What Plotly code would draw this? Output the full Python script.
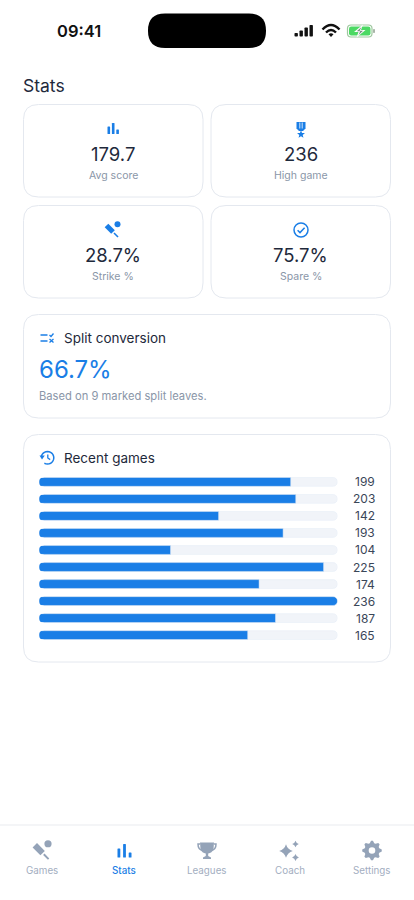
import math
import plotly.graph_objects as go

FONT = "Inter"
BLUE = "#1a7ee6"
INK = "#1e293b"
MUTED = "#8a96a8"
GREY = "#94a3b8"
BORDER = "#e4e8ef"
TRACK = "#f1f4f9"

# recent games
games = ["g1", "g2", "g3", "g4", "g5", "g6", "g7", "g8", "g9", "g10"]
scores = [199, 203, 142, 193, 104, 225, 174, 236, 187, 165]
track = [236] * 10

# stat cards
card_values = ["179.7", "236", "28.7%", "75.7%"]
card_labels = ["Avg score", "High game", "Strike %", "Spare %"]
tab_labels = ["Games", "Stats", "Leagues", "Coach", "Settings"]

fig = go.Figure()
fig.add_bar(y=games, x=track, orientation="h", marker_color=TRACK, width=0.52, hoverinfo="skip")
fig.add_bar(y=games, x=scores, orientation="h", marker_color=BLUE, width=0.52, hoverinfo="skip")

shapes = []
notes = []


def rrect(x0, y0, x1, y1, r):
    return (f"M{x0+r},{y0} L{x1-r},{y0} Q{x1},{y0} {x1},{y0+r} L{x1},{y1-r} Q{x1},{y1} {x1-r},{y1} "
            f"L{x0+r},{y1} Q{x0},{y1} {x0},{y1-r} L{x0},{y0+r} Q{x0},{y0} {x0+r},{y0} Z")


def fill(path, color):
    shapes.append(dict(type="path", path=path, fillcolor=color, line_width=0, xref="x2", yref="y2", layer="above"))


def stroke(path, color, w):
    shapes.append(dict(type="path", path=path, line=dict(color=color, width=w), xref="x2", yref="y2", layer="above"))


def circle(cx, cy, r, color=None, line=None, w=1.5):
    shapes.append(dict(type="circle", x0=cx - r, x1=cx + r, y0=cy - r, y1=cy + r, xref="x2", yref="y2",
                       fillcolor=color or "rgba(0,0,0,0)", line=dict(color=line or color, width=w if line else 0),
                       layer="above"))


def text(x, y, s, size, color, anchor="left", weight=400):
    # annotations carry about 2px of padding on the anchored side
    x = x - 2 if anchor == "left" else x
    notes.append(dict(x=x, y=y, text=s, xref="x2", yref="y2", xanchor=anchor, yanchor="middle", showarrow=False,
                      font=dict(family=FONT, size=size, color=color, weight=weight)))


def card(x0, y0, x1, y1):
    stroke(rrect(x0, y0, x1, y1, 15), BORDER, 1)


def star(cx, cy, r, color):
    pts = []
    for i in range(10):
        rad = r if i % 2 == 0 else r * 0.42
        a = -math.pi / 2 + i * math.pi / 5
        pts.append(f"{cx + rad * math.cos(a):.2f},{cy + rad * math.sin(a):.2f}")
    fill("M" + " L".join(pts) + " Z", color)


def sparkle(cx, cy, r, color):
    k = r * 0.22
    fill(f"M{cx},{cy-r} Q{cx+k},{cy-k} {cx+r},{cy} Q{cx+k},{cy+k} {cx},{cy+r} "
         f"Q{cx-k},{cy+k} {cx-r},{cy} Q{cx-k},{cy-k} {cx},{cy-r} Z", color)


def bars_icon(x, bottom, w, gap, heights, color):
    for i, h in enumerate(heights):
        bx = x + i * (w + gap)
        fill(rrect(bx, bottom - h, bx + w, bottom, 0.6), color)


def bat(x, y, k, color):
    # barrel, handle and ball, from the top-left corner of the icon
    stroke(f"M{x+1.5*k},{y+1.5*k} L{x+8*k},{y+8*k}", color, 5.2 * k)
    stroke(f"M{x+9*k},{y+9*k} L{x+13*k},{y+13*k}", color, 1.6 * k)
    circle(x + 12.5 * k, y + 0.2 * k, 3 * k, color)


# status bar
text(79, 31, "09:41", 16.5, "#111111", "center", 600)
fill(rrect(148, 13.5, 266, 48, 17), "#000000")
for bx, top in zip([294.5, 299.5, 304.5, 309.5], [33, 30.5, 27.5, 25]):
    fill(rrect(bx, top, bx + 3.4, 36.5, 0.8), "#111111")
stroke("M322.5,29.5 Q331,20.5 339.5,29.5", "#111111", 2.4)
stroke("M326,32.5 Q331,27.5 336,32.5", "#111111", 2.4)
fill("M328.5,34.3 Q331,32 333.5,34.3 L331,37 Z", "#111111")
stroke(rrect(347.5, 25, 372, 37, 3.5), "#9fc79f", 1.2)
fill(rrect(349, 26.5, 370.5, 35.5, 2.2), "#4cd964")
fill(rrect(373, 29, 375, 33, 0.8), "#a9b5a9")
fill("M363,24.5 L354,32 L358.5,32 L356.5,37.5 L365.5,30 L361,30 Z", "#ffffff")
fill("M361.5,27 L356.8,31.2 L360.2,31.2 L358.5,35 L363,30.8 L359.6,30.8 Z", "#7d8a84")

text(23, 85.5, "Stats", 17.5, INK)

# stat cards
boxes = [(23.5, 104.5, 203, 197), (211, 104.5, 390.5, 197), (23.5, 205.5, 203, 298), (211, 205.5, 390.5, 298)]
for (x0, y0, x1, y1), v, lab in zip(boxes, card_values, card_labels):
    card(x0, y0, x1, y1)
    cx = (x0 + x1) / 2
    text(cx, y0 + 49.5, v, 18.5, INK, "center")
    text(cx, y0 + 70.5, lab, 10.5, MUTED, "center")

bars_icon(107.5, 134, 2.6, 1.8, [7.5, 11, 4.5], BLUE)
fill("M296.5,122 L305.5,122 L305.5,128.5 L303,131 L299,131 L296.5,128.5 Z", BLUE)
stroke("M299.8,122.5 L299.8,128.5", "#ffffff", 0.8)
stroke("M302.2,122.5 L302.2,128.5", "#ffffff", 0.8)
star(301, 134.4, 4.2, BLUE)
bat(105, 224, 1, BLUE)
circle(301, 230, 7, line=BLUE, w=1.5)
stroke("M297.6,230.2 L300,232.6 L304.6,227.8", BLUE, 1.5)

# split conversion
card(23.5, 314.5, 390.5, 418)
stroke("M40.5,335 L47.5,335", BLUE, 1.5)
stroke("M40.5,341 L47.5,341", BLUE, 1.5)
stroke("M49.5,335 L51,336.5 L53.5,333.5", BLUE, 1.3)
stroke("M49.5,339 L53.5,342.5 M53.5,339 L49.5,342.5", BLUE, 1.3)
text(64, 338, "Split conversion", 13.5, INK)
text(39, 369.5, "66.7%", 24, BLUE)
text(39, 396, "Based on 9 marked split leaves.", 11.2, MUTED)

# recent games
card(23.5, 434.5, 390.5, 662)
arc = [(47.5 + 6.3 * math.cos(math.radians(a)), 457.8 + 6.3 * math.sin(math.radians(a)))
       for a in range(-165, 135, 15)]
stroke("M" + " L".join(f"{px:.2f},{py:.2f}" for px, py in arc), BLUE, 1.5)
fill("M39.5,455.5 L44.8,455.5 L42,459.4 Z", BLUE)
stroke("M47.8,454.5 L47.8,458 L50.2,459.6", BLUE, 1.3)
text(64, 458, "Recent games", 13.5, INK)

# value labels at the end of each row
for g, s in zip(games, scores):
    notes.append(dict(x=377, xref="x2", y=g, yref="y", text=str(s), xanchor="right", yanchor="middle",
                      showarrow=False, font=dict(family=FONT, size=12, color="#3a4658")))
    # plotly only rounds the tip of a bar, so notch the base corners too
    shapes.append(dict(type="path", xref="x", yref="y", xsizemode="pixel", ysizemode="pixel", xanchor=0, yanchor=g,
                       path="M-1,-5.5 L5,-5.5 L4.5,-4.5 Q0,-4.5 0,0 Q0,4.5 4.5,4.5 L5,5.5 L-1,5.5 Z",
                       fillcolor="#ffffff", line_width=0, layer="above"))

# tab bar
shapes.append(dict(type="line", x0=0, x1=414, y0=825, y1=825, xref="x2", yref="y2", layer="above",
                   line=dict(color="#e9ebef", width=1)))
for cx, lab in zip([41.5, 124, 207, 289.5, 372], tab_labels):
    text(cx, 870, lab, 9.8, BLUE if lab == "Stats" else "#a3aebf", "center", 500 if lab == "Stats" else 400)

bat(33, 843.5, 1.2, GREY)
bars_icon(117.5, 857.5, 2.8, 2.8, [9, 13.5, 5], BLUE)
# trophy
fill("M200,842.5 L214,842.5 L213.5,849 Q212,853 208.2,853.5 L208.2,856 L211,857.5 L211,859 L203,859 "
     "L203,857.5 L205.8,856 L205.8,853.5 Q202,853 200.5,849 Z", GREY)
stroke("M200,844 L198,844 Q198,849 202,850.5", GREY, 1.5)
stroke("M214,844 L216,844 Q216,849 212,850.5", GREY, 1.5)
sparkle(286, 851, 6.8, GREY)
sparkle(295.5, 844, 3.3, GREY)
sparkle(295.5, 857.5, 3.4, GREY)
# gear
teeth = []
for i in range(32):
    rad = 9.8 if i % 4 in (0, 1) else 7.6
    a = -math.pi / 2 + (i - 0.5) * math.pi / 16
    teeth.append(f"{372 + rad * math.cos(a):.2f},{850.5 + rad * math.sin(a):.2f}")
fill("M" + " L".join(teeth) + " Z", GREY)
circle(372, 850.5, 3.3, "#ffffff")

fig.update_layout(
    width=414, height=900, margin=dict(l=0, r=0, t=0, b=0), autosize=False,
    paper_bgcolor="#ffffff", plot_bgcolor="rgba(0,0,0,0)",
    barmode="overlay", barcornerradius=5, showlegend=False,
    shapes=shapes, annotations=notes,
    # bars sit in the Recent games card, everything else is drawn on a page-sized pixel axis pair
    xaxis=dict(domain=[39 / 414, 337.5 / 414], range=[0, 236], visible=False, fixedrange=True),
    yaxis=dict(domain=[1 - 644.6 / 900, 1 - 472.4 / 900], autorange="reversed", visible=False, fixedrange=True),
    xaxis2=dict(domain=[0, 1], range=[0, 414], visible=False, anchor="y2", fixedrange=True),
    yaxis2=dict(domain=[0, 1], range=[900, 0], visible=False, anchor="x2", fixedrange=True),
)

fig.write_html("out.html", config=dict(displayModeBar=False),
               post_script="document.body.style.margin='0';document.body.style.background='#ffffff';")
